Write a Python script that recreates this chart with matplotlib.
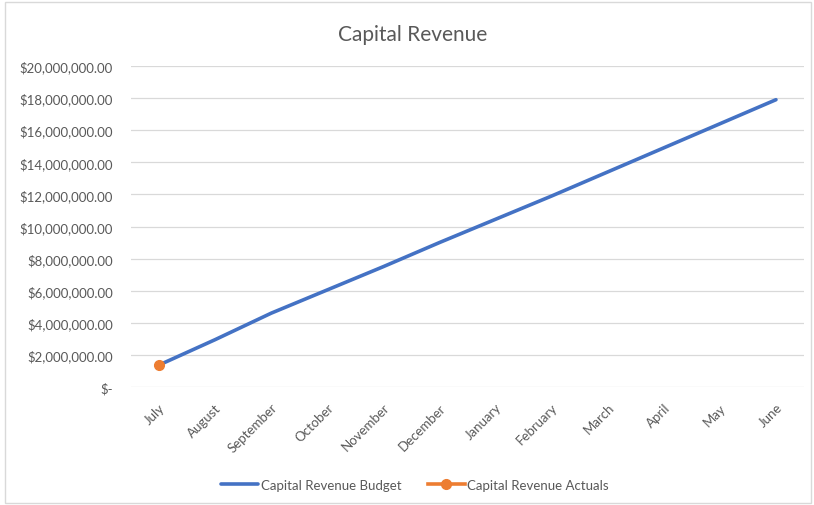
import matplotlib
matplotlib.use("Agg")
import matplotlib.pyplot as plt
from matplotlib.ticker import FuncFormatter, MultipleLocator
from matplotlib.patches import Rectangle

months = ["July", "August", "September", "October", "November", "December",
          "January", "February", "March", "April", "May", "June"]
budget = [1.37e6, 2.95e6, 4.6e6, 6.05e6, 7.5e6, 9.0e6,
          10.45e6, 11.9e6, 13.4e6, 14.9e6, 16.4e6, 17.9e6]
actuals = [1.37e6]

plt.rcParams['font.family'] = ['Lato', 'DejaVu Sans']
text_col = "#595959"

fig = plt.figure(figsize=(8.14, 5.06), dpi=100)
ax = fig.add_axes([131/814, 1 - 388/506, (804-131)/814, (388-67)/506])

# chart border
fig.patches.append(Rectangle((0.006, 0.004), 0.99, 0.99, transform=fig.transFigure,
                             fill=False, edgecolor="#d9d9d9", linewidth=1))

x = list(range(len(months)))
ax.plot(x, budget, color="#4472c4", linewidth=2.6, label="Capital Revenue Budget",
        solid_capstyle="round")
ax.plot(x[:len(actuals)], actuals, color="#ed7d31", linewidth=2.6, marker="o",
        markersize=7, label="Capital Revenue Actuals")

ax.set_xlim(-0.5, len(months) - 0.5)
ax.set_ylim(0, 20e6)
ax.yaxis.set_major_locator(MultipleLocator(2e6))

def money(v, pos):
    if v == 0:
        return "$-"
    return "${:,.2f}".format(v)

ax.yaxis.set_major_formatter(FuncFormatter(money))
ax.set_xticks(x)
ax.set_xticklabels(months, rotation=45, ha="right", rotation_mode="anchor")

ax.grid(axis="y", color="#d9d9d9", linewidth=0.9)
ax.set_axisbelow(True)
for s in ax.spines.values():
    s.set_visible(False)
ax.tick_params(length=0, colors=text_col, labelsize=9.5)
ax.tick_params(axis="y", pad=13)
ax.tick_params(axis="x", pad=10)

fig.text(413/814, 1 - 35/506, "Capital Revenue", ha="center", va="center",
         fontsize=15, color=text_col)

fig.legend(loc="center", bbox_to_anchor=(0.51, 1 - 486/506), ncol=2, frameon=False,
           fontsize=9.5, labelcolor=text_col, handlelength=2.8, handletextpad=0.2,
           columnspacing=2.0)

fig.savefig("out.png", dpi=100)
